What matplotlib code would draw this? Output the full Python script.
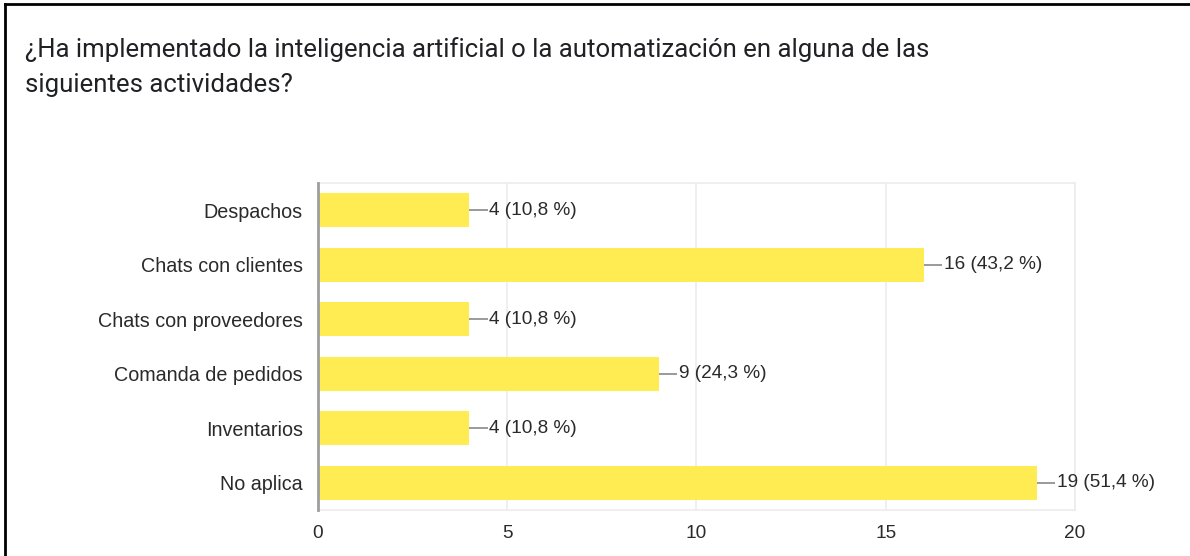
import numpy as np
import matplotlib
matplotlib.use("Agg")
import matplotlib.pyplot as plt
from matplotlib.lines import Line2D

# =========================
# DATA
# =========================
categories = ["Despachos", "Chats con clientes", "Chats con proveedores",
              "Comanda de pedidos", "Inventarios", "No aplica"]
counts = [4, 16, 4, 9, 4, 19]
percents = ["10,8", "43,2", "10,8", "24,3", "10,8", "51,4"]
xticks = [0, 5, 10, 15, 20]

title_l1 = "¿Ha implementado la inteligencia artificial o la automatización en alguna de las"
title_l2 = "siguientes actividades?"

BAR = "#ffec52"
GRID = "#ececec"
TXT = "#2a2a2a"

# =========================
# FIGURE
# =========================
W, H = 1190, 556
fig = plt.figure(figsize=(W / 100, H / 100), dpi=100)
fig.patch.set_facecolor("white")

ax = fig.add_axes([318 / W, 1 - 510 / H, (1075 - 318) / W, (510 - 183) / H])

y = np.arange(len(categories))
ax.barh(y, counts, height=0.625, color=BAR, zorder=2)

# leader lines + value labels
for yi, c, p in zip(y, counts, percents):
    ax.plot([c, c + 0.48], [yi, yi], color="#9a9a9a", lw=1.4, zorder=3,
            solid_capstyle="butt")
    ax.text(c + 0.53, yi, f"{c} ({p} %)", va="center", ha="left",
            fontsize=13.7, color=TXT, family="Liberation Sans")

ax.set_xlim(0, 20)
ax.set_ylim(len(categories) - 0.5, -0.5)
ax.set_yticks(y)
ax.set_yticklabels(categories, fontsize=14.2, color=TXT, family="Liberation Sans")
ax.set_xticks(xticks)
ax.set_xticklabels([str(t) for t in xticks], fontsize=13.7, color=TXT,
                   family="Liberation Sans")
ax.tick_params(axis="both", length=0)
ax.tick_params(axis="x", pad=11)
ax.tick_params(axis="y", pad=11)

ax.grid(axis="x", color=GRID, lw=1.2, zorder=0)
for s in ["top", "right", "bottom"]:
    ax.spines[s].set_color(GRID)
    ax.spines[s].set_linewidth(1.2)
ax.spines["left"].set_color("#9e9e9e")
ax.spines["left"].set_linewidth(2)
ax.spines["left"].set_zorder(4)

# title
fig.text(25 / W, 1 - 57 / H, title_l1, fontsize=18.5, color="#202124",
         family="Roboto", va="baseline", ha="left")
fig.text(25 / W, 1 - 92 / H, title_l2, fontsize=18.5, color="#202124",
         family="Roboto", va="baseline", ha="left")

# screenshot frame
fig.add_artist(Line2D([5 / W, 5 / W], [0, 1 - 4 / H], transform=fig.transFigure,
                      color="black", lw=2))
fig.add_artist(Line2D([5 / W, 1], [1 - 4 / H, 1 - 4 / H], transform=fig.transFigure,
                      color="black", lw=2))

fig.savefig("out.png", dpi=100)
